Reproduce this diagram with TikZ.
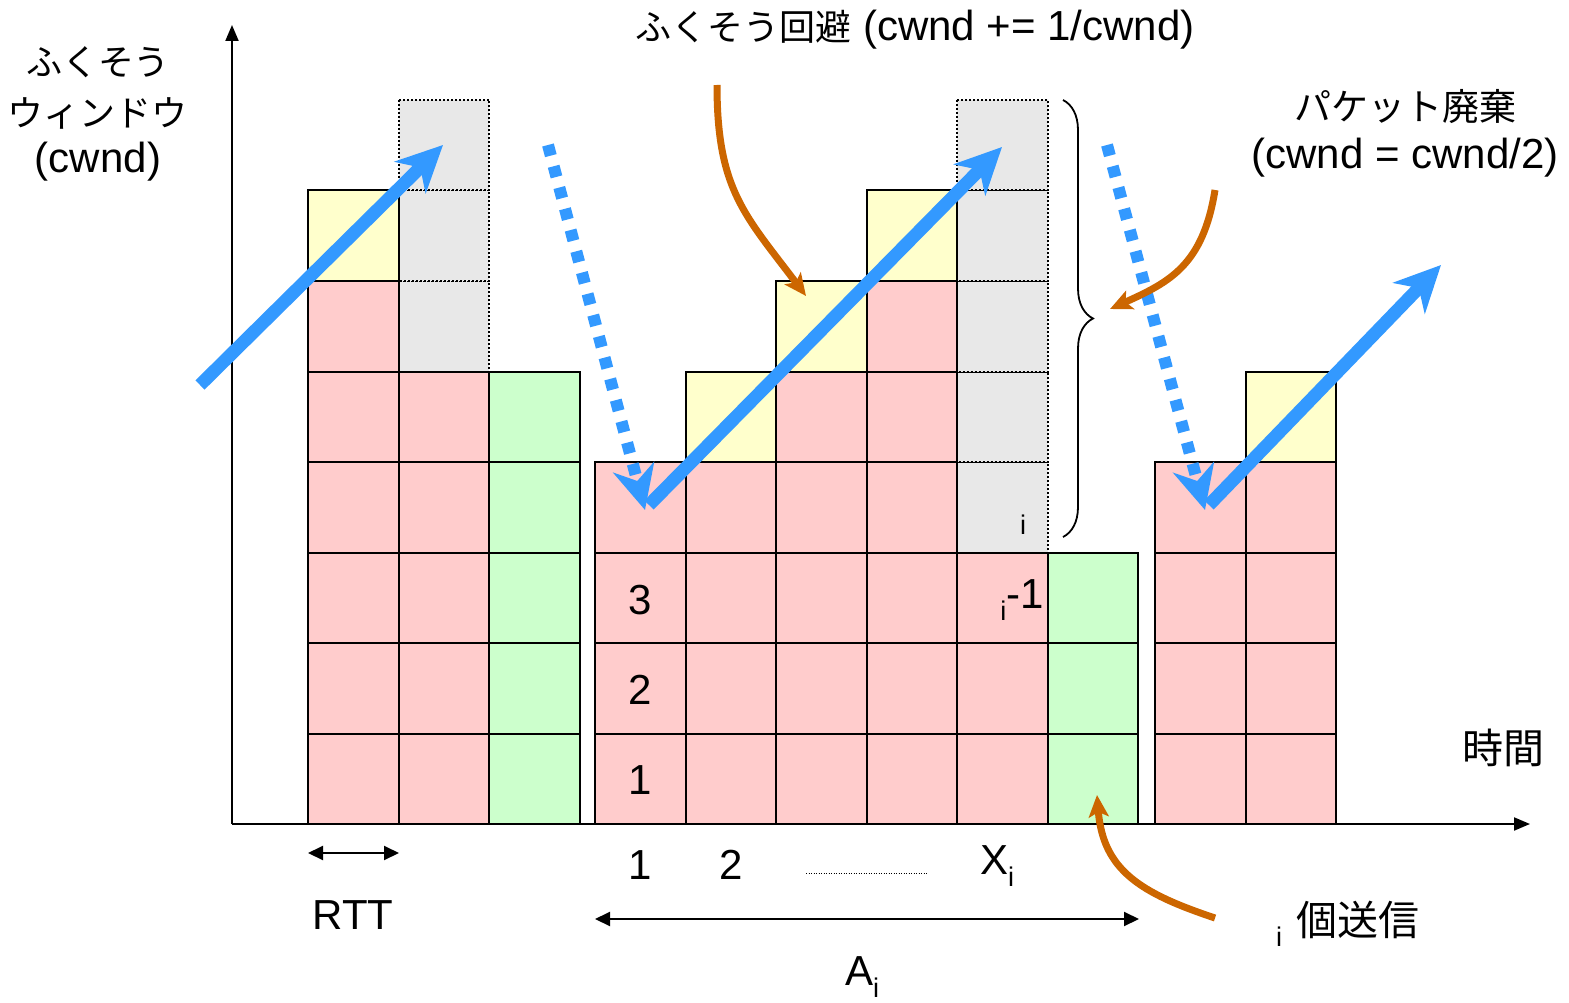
\documentclass[tikz,border=0pt]{standalone}
\usepackage{fontspec}
\setmainfont{Liberation Sans}
\newfontfamily\jp{Noto Sans CJK JP}
\usetikzlibrary{arrows.meta,decorations.pathreplacing}
\definecolor{cred}{HTML}{FFCCCC}
\definecolor{cyel}{HTML}{FFFFCC}
\definecolor{cgrn}{HTML}{CCFFCC}
\definecolor{cgry}{HTML}{E8E8E8}
\definecolor{cblue}{HTML}{3399FF}
\definecolor{corg}{HTML}{CC6600}
\newcommand\mycell[3]{\path[#3] (#1,{824-(#2)*90.5}) rectangle ++(90.5,90.5);}
\newcommand\smi{\fontsize{27}{27}\selectfont i}
\begin{document}
\begin{tikzpicture}[x=1pt,y=-1pt,
  every node/.style={inner sep=0pt, font=\fontsize{42}{50}\selectfont},
  redc/.style={draw=black, line width=2pt, fill=cred},
  yelc/.style={draw=black, line width=2pt, fill=cyel},
  grnc/.style={draw=black, line width=2pt, fill=cgrn},
  gryc/.style={draw=black, line width=2pt, dash pattern=on 2pt off 2pt, fill=cgry},
  axis/.style={draw=black, line width=2pt, -{Triangle[length=16pt,width=13pt]}},
  dbl/.style={draw=black, line width=2pt, {Triangle[length=15pt,width=14pt]}-{Triangle[length=15pt,width=14pt]}},
  bluearr/.style={draw=cblue, line width=13pt, -{Stealth[length=46pt,width=44pt,inset=14pt]}},
  bluedot/.style={draw=cblue, line width=12pt, dash pattern=on 11pt off 11pt, -{Stealth[length=44pt,width=42pt,inset=14pt]}},
  orgarr/.style={draw=corg, line width=7pt, -{Stealth[length=22pt,width=20pt,inset=5pt]}},
  jp36/.style={font=\jp\fontsize{36}{40}\selectfont},
  jp41/.style={font=\jp\fontsize{41}{45}\selectfont}
]
\useasboundingbox (0,0) rectangle (1569,1003);
% grey (dotted) cells first
\foreach \r in {6,7,8} {\mycell{398.5}{\r}{gryc}}
\foreach \r in {4,...,8} {\mycell{957}{\r}{gryc}}
% column 1
\foreach \r in {1,...,6} {\mycell{308}{\r}{redc}}
\mycell{308}{7}{yelc}
% column 2
\foreach \r in {1,...,5} {\mycell{398.5}{\r}{redc}}
% column 3
\foreach \r in {1,...,5} {\mycell{489}{\r}{grnc}}
% column 4
\foreach \r in {1,...,4} {\mycell{595}{\r}{redc}}
% column 5
\foreach \r in {1,...,4} {\mycell{685.5}{\r}{redc}}
\mycell{685.5}{5}{yelc}
% column 6
\foreach \r in {1,...,5} {\mycell{776}{\r}{redc}}
\mycell{776}{6}{yelc}
% column 7
\foreach \r in {1,...,6} {\mycell{866.5}{\r}{redc}}
\mycell{866.5}{7}{yelc}
% column 8
\foreach \r in {1,2,3} {\mycell{957}{\r}{redc}}
% column 9
\foreach \r in {1,2,3} {\mycell{1047.5}{\r}{grnc}}
% column 10
\foreach \r in {1,...,4} {\mycell{1155}{\r}{redc}}
% column 11
\foreach \r in {1,...,4} {\mycell{1245.5}{\r}{redc}}
\mycell{1245.5}{5}{yelc}

% axes
\coordinate (O) at (232,824);
\coordinate (ytop) at (232,25);
\coordinate (xend) at (1530,824);
\draw[axis] (O) -- (ytop);
\draw[axis] (O) -- (xend);

% cell labels
\node (n1) at (640,780) {1};
\node (n2) at (640,690) {2};
\node (n3) at (640,600) {3};
\node[anchor=east] (xim1) at (1044,600) {\raisebox{-12pt}{\smi}-1};
\node (xi) at (1023,525) {\smi};

% blue arrows
\coordinate (b1s) at (200,385);
\coordinate (b1e) at (443,145);
\coordinate (d1s) at (548,145);
\coordinate (v1) at (645,510);
\coordinate (b2s) at (649,505);
\coordinate (b2e) at (1002,147);
\coordinate (d2s) at (1107,145);
\coordinate (v2) at (1205,510);
\coordinate (b3s) at (1209,505);
\coordinate (b3e) at (1441,265);
\draw[bluearr] (b1s) -- (b1e);
\draw[bluedot] (d1s) -- (v1);
\draw[bluearr] (b2s) -- (b2e);
\draw[bluedot] (d2s) -- (v2);
\draw[bluearr] (b3s) -- (b3e);

% brace
\coordinate (brt) at (1063,100);
\coordinate (brb) at (1063,537);
\draw[decorate, decoration={brace, amplitude=30pt}, line width=1.8pt] (brt) -- (brb);

% orange arrows
\coordinate (o1s) at (717,85);
\coordinate (o1e) at (806,296);
\coordinate (o2s) at (1215,190);
\coordinate (o2e) at (1110,309);
\coordinate (o3s) at (1215,918);
\coordinate (o3e) at (1097,795);
\draw[orgarr] (o1s) .. controls (717,190) and (745,215) .. (o1e);
\draw[orgarr] (o2s) .. controls (1203,265) and (1170,282) .. (o2e);
\draw[orgarr] (o3s) .. controls (1140,893) and (1103,870) .. (o3e);

% bottom annotations
\coordinate (rl) at (308,853);
\coordinate (rr) at (399,853);
\draw[dbl] (rl) -- (rr);
\node (rtt) at (353,915) {RTT};
\node (b1) at (640,865) {1};
\node (b2) at (731,865) {2};
\coordinate (dl) at (806,873);
\coordinate (dr) at (928,873);
\draw[line width=1pt, dash pattern=on 1pt off 1.5pt] (dl) -- (dr);
\node (bx) at (997,866) {X\raisebox{-12pt}{\smi}};
\coordinate (al) at (595,919);
\coordinate (ar) at (1139,919);
\draw[dbl] (al) -- (ar);
\node (ai) at (862,977) {A\raisebox{-12pt}{\smi}};

% titles
\node[jp36] (l1) at (98,62) {ふくそう};
\node[jp36] (l2) at (98,113) {ウィンドウ};
\node (l3) at (98,162) {(cwnd)};
\node (top) at (915,30) {{\jp\fontsize{36}{40}\selectfont ふくそう回避} (cwnd += 1/cwnd)};
\node[font=\jp\fontsize{37}{40}\selectfont] (r1) at (1405,107) {パケット廃棄};
\node (r2) at (1405,158) {(cwnd = cwnd/2)};
\node[jp41] (time) at (1503,748) {時間};
\node (si) at (1279,937) {\smi};
\node[jp41] (send) at (1358,920) {個送信};
\end{tikzpicture}
\end{document}
